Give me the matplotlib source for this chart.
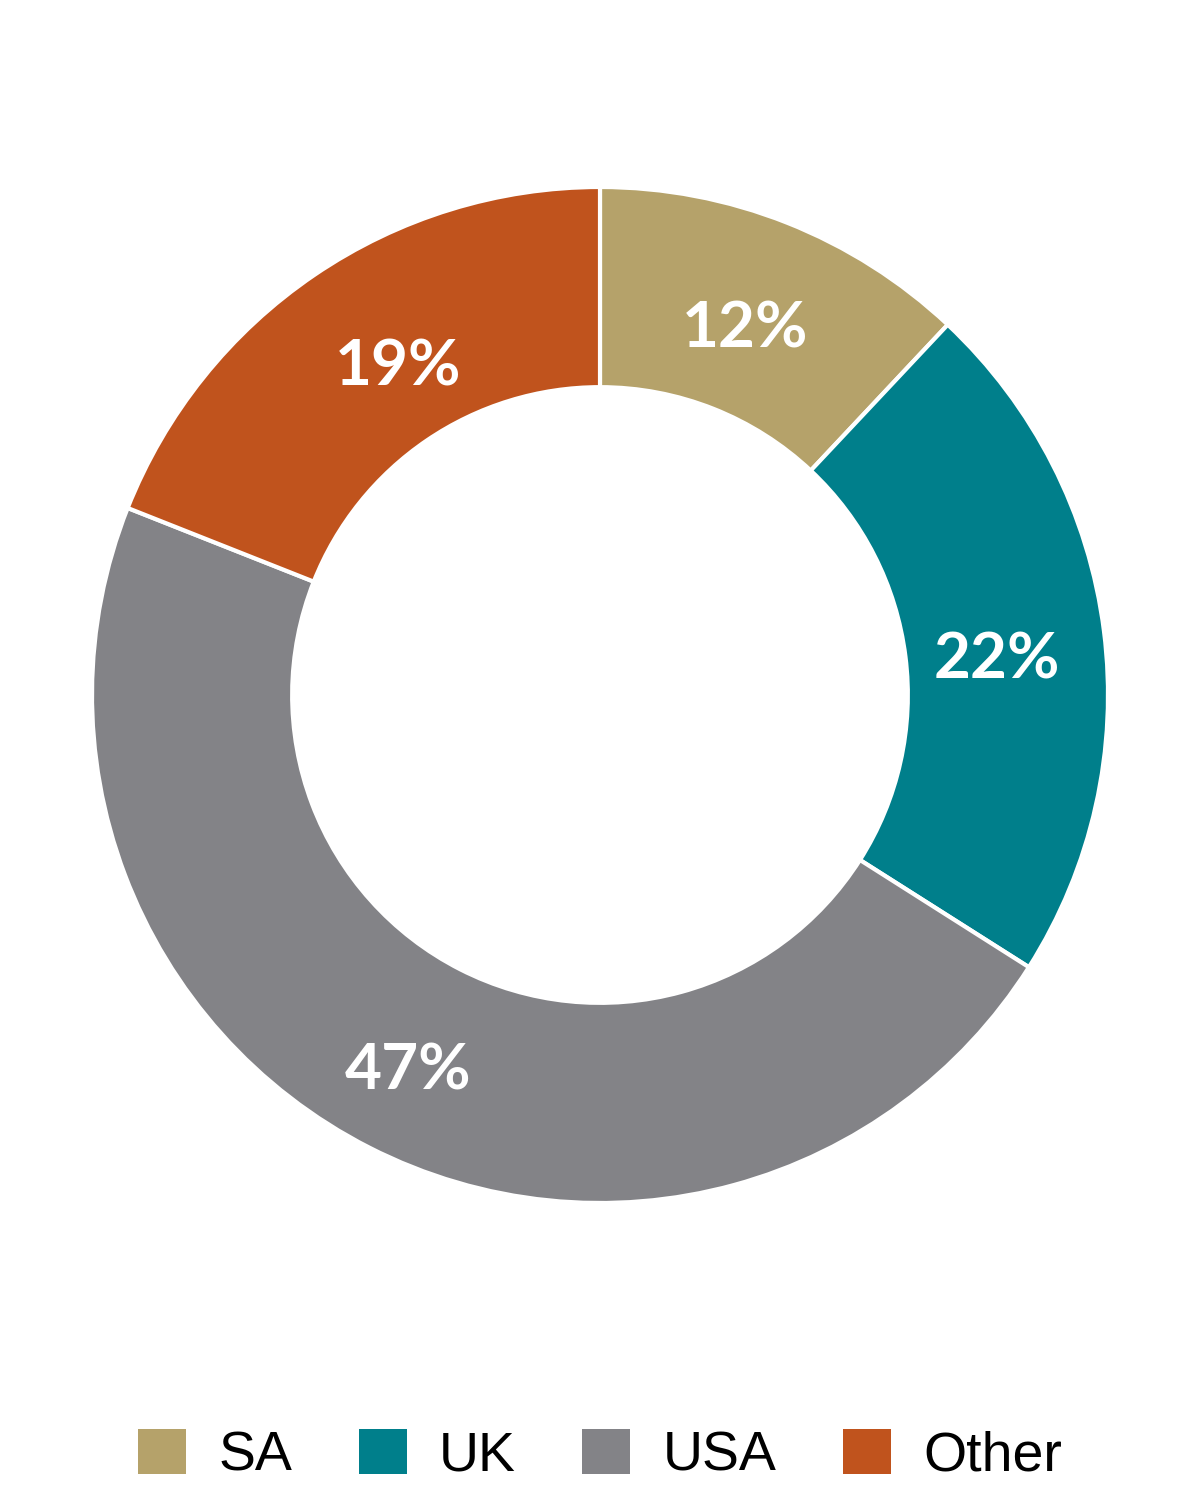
import numpy as np
import matplotlib.pyplot as plt

labels = ["SA", "UK", "USA", "Other"]
shares = [12, 22, 47, 19]
colors = ["#b5a26a", "#007f8b", "#838387", "#c0531d"]

# where each percentage label sits: radius (fraction of outer) and angle nudge (deg)
label_r = [0.784, 0.785, 0.822, 0.767]
label_dang = [0.3, -1.5, -0.4, -3.0]

W, H = 1200, 1500
fig = plt.figure(figsize=(12, 15), dpi=100)

# donut centre (600, 695) px, outer radius 508 px
cx, cy, R = 600, 695, 508
ax = fig.add_axes([(cx - R) / W, (H - cy - R) / H, 2 * R / W, 2 * R / H])

wedges, texts = ax.pie(
    shares, colors=colors, startangle=90, counterclock=False, radius=1.0,
    wedgeprops=dict(width=0.394, edgecolor="white", linewidth=3),
)
for w, v, r, da in zip(wedges, shares, label_r, label_dang):
    ang = np.deg2rad((w.theta1 + w.theta2) / 2 + da)
    ax.text(r * np.cos(ang), r * np.sin(ang), f"{v}%", color="white",
            fontsize=46, fontweight="bold", family="Lato",
            ha="center", va="center_baseline")

ax.set_xlim(-1, 1)
ax.set_ylim(-1, 1)
ax.set_aspect("equal")
ax.axis("off")

leg = fig.legend(
    wedges, labels, loc="center", bbox_to_anchor=(0.5, 1 - 1456 / H),
    ncol=4, frameon=False,
    prop=dict(family="Liberation Sans", size=40),
    handlelength=0.86, handleheight=0.86, handletextpad=0.58,
    columnspacing=1.2,
)
for h in leg.legend_handles:
    h.set_edgecolor("none")

fig.savefig("out.png", dpi=100)
